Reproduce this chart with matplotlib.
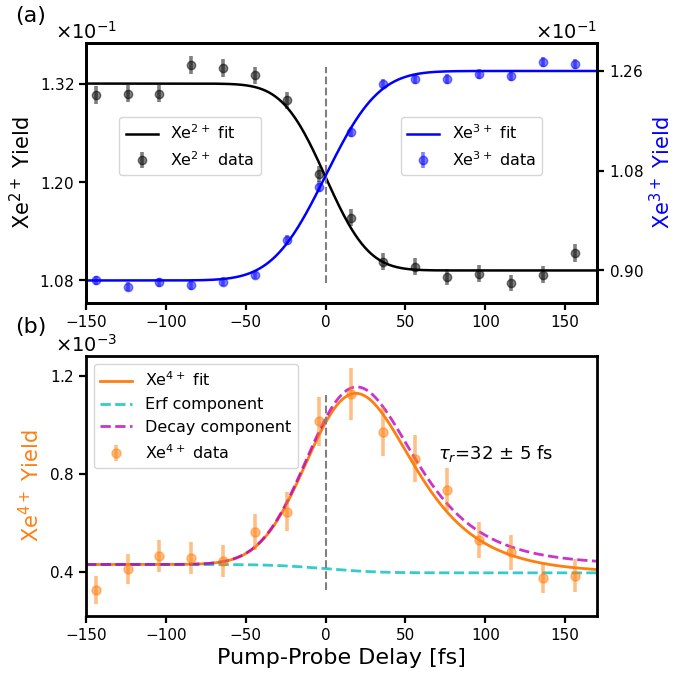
import math
import numpy as np
import matplotlib
matplotlib.use("Agg")
import matplotlib.pyplot as plt

# ---------------- data ----------------
delay = [-144, -124, -104, -84, -64, -44, -24, -4, 16, 36, 56, 76, 96, 116, 136, 156]

xe2 = [0.13058, 0.13078, 0.13078, 0.13426, 0.13390, 0.13300, 0.12997, 0.12094,
       0.11566, 0.11031, 0.10970, 0.10841, 0.10882, 0.10768, 0.10869, 0.11133]
xe2_err = [0.00110, 0.00104, 0.00104, 0.00108, 0.00108, 0.00104, 0.00104, 0.00098,
           0.00102, 0.00102, 0.00102, 0.00102, 0.00102, 0.00102, 0.00102, 0.00110]

xe3 = [0.0882, 0.08707, 0.08784, 0.0873, 0.0880, 0.08923, 0.09553, 0.10512,
       0.11502, 0.1236, 0.12463, 0.12463, 0.12553, 0.12505, 0.12762, 0.12733]
xe3_err = [0.0008, 0.0008, 0.0008, 0.0008, 0.0008, 0.0008, 0.0009, 0.0010,
           0.0009, 0.0009, 0.0009, 0.0009, 0.0009, 0.0009, 0.0009, 0.0009]

xe4 = [0.3255e-3, 0.411e-3, 0.464e-3, 0.457e-3, 0.4435e-3, 0.5615e-3, 0.6457e-3, 1.014e-3,
       1.126e-3, 0.972e-3, 0.861e-3, 0.735e-3, 0.529e-3, 0.479e-3, 0.373e-3, 0.385e-3]
xe4_err = [0.056e-3, 0.062e-3, 0.066e-3, 0.066e-3, 0.064e-3, 0.073e-3, 0.081e-3, 0.100e-3,
           0.106e-3, 0.100e-3, 0.096e-3, 0.088e-3, 0.073e-3, 0.071e-3, 0.058e-3, 0.066e-3]

# fit parameters (estimated from the reference curves)
xe2_hi, xe2_lo, xe2_t0, xe2_w = 0.1320, 0.10922, 0.0, 30.0
xe3_lo, xe3_hi, xe3_t0, xe3_w = 0.0882, 0.1260, 0.0, 37.0
xe4_c0, xe4_step, xe4_amp = 0.43e-3, -0.034e-3, 2.014e-3
xe4_sigma, xe4_tau, xe4_t0 = 26.0, 32.0, -1.0

xticks = [-150, -100, -50, 0, 50, 100, 150]
left_ticks = [0.108, 0.120, 0.132]
right_ticks = [0.090, 0.108, 0.126]
bottom_ticks = [0.0004, 0.0008, 0.0012]

# ---------------- models ----------------
erf = np.vectorize(math.erf)
t = np.linspace(-150, 170, 600)

fit2 = xe2_hi - (xe2_hi - xe2_lo) * (1 + erf((t - xe2_t0) / xe2_w)) / 2
fit3 = xe3_lo + (xe3_hi - xe3_lo) * (1 + erf((t - xe3_t0) / xe3_w)) / 2

u = t - xe4_t0
s, tau = xe4_sigma, xe4_tau
decay = xe4_amp * 0.5 * np.exp(s**2 / (2 * tau**2) - u / tau) * \
    (1 - erf((s / tau - u / s) / math.sqrt(2)))
erf_comp = xe4_c0 + xe4_step * (1 + erf(t / (math.sqrt(2) * s))) / 2
decay_comp = xe4_c0 + decay
fit4 = erf_comp + decay

# ---------------- figure ----------------
fig = plt.figure(figsize=(6.86, 6.77), dpi=100)
ax1 = fig.add_axes([0.1254, 0.5524, 0.745, 0.384])
ax3 = fig.add_axes([0.1254, 0.0901, 0.745, 0.384])
ax2 = ax1.twinx()

orange = '#ff7f0e'

# panel (a)
ax1.plot(t, fit2, color='k', lw=1.8, label='Xe$^{2+}$ fit')
ax1.errorbar(delay, xe2, yerr=xe2_err, fmt='o', color='k', alpha=0.5,
             ms=6, elinewidth=2.6, capsize=0, label='Xe$^{2+}$ data')
ax1.vlines(0, 0.10772, 0.13398, colors='gray', linestyles='--', lw=1.5)

ax2.plot(t, fit3, color='b', lw=1.8, label='Xe$^{3+}$ fit')
ax2.errorbar(delay, xe3, yerr=xe3_err, fmt='o', color='b', alpha=0.5,
             ms=6, elinewidth=2.6, capsize=0, label='Xe$^{3+}$ data')

ax1.set_xlim(-150, 170)
ax1.set_ylim(0.10525, 0.13694)
ax2.set_ylim(0.08413, 0.13104)
ax1.set_xticks(xticks)
ax1.set_yticks(left_ticks)
ax2.set_yticks(right_ticks)

ax1.set_ylabel('Xe$^{2+}$ Yield', fontsize=15)
ax2.set_ylabel('Xe$^{3+}$ Yield', fontsize=15, color='b')

ax1.legend(loc='upper left', bbox_to_anchor=(0.065, 0.715), borderaxespad=0,
           fontsize=11.5)
ax2.legend(loc='upper left', bbox_to_anchor=(0.616, 0.715), borderaxespad=0,
           fontsize=11.5)

# panel (b)
ax3.plot(t, fit4, color=orange, lw=2, label='Xe$^{4+}$ fit')
ax3.plot(t, erf_comp, color='c', ls='--', lw=2, alpha=0.8, label='Erf component')
ax3.plot(t, decay_comp, color='m', ls='--', lw=2, alpha=0.8, label='Decay component')
ax3.errorbar(delay, xe4, yerr=xe4_err, fmt='o', color=orange, alpha=0.5,
             ms=6.5, elinewidth=2.6, capsize=0, label='Xe$^{4+}$ data')
ax3.vlines(0, 0.000325, 0.00112, colors='gray', linestyles='--', lw=1.5)
ax3.text(70.5, 0.000883, r'$\tau_r$=32 $\pm$ 5 fs', fontsize=13, va='center')

ax3.set_xlim(-150, 170)
ax3.set_ylim(0.00022, 0.00128)
ax3.set_xticks(xticks)
ax3.set_yticks(bottom_ticks)
ax3.set_ylabel('Xe$^{4+}$ Yield', fontsize=15, color=orange)
ax3.set_xlabel('Pump-Probe Delay [fs]', fontsize=16)
ax3.legend(loc='upper left', fontsize=11.5)

for ax in (ax1, ax2, ax3):
    ax.ticklabel_format(axis='y', style='sci', scilimits=(0, 0), useMathText=True)
    ax.tick_params(labelsize=11, width=1.6, length=5)
    ax.yaxis.get_offset_text().set_fontsize(14)
    for sp in ax.spines.values():
        sp.set_linewidth(2)

ax1.yaxis.get_offset_text().set_ha('center')
ax3.yaxis.get_offset_text().set_ha('center')

fig.text(0.022, 0.976, '(a)', fontsize=16, va='center')
fig.text(0.022, 0.517, '(b)', fontsize=16, va='center')

fig.savefig('out.png', dpi=100)
